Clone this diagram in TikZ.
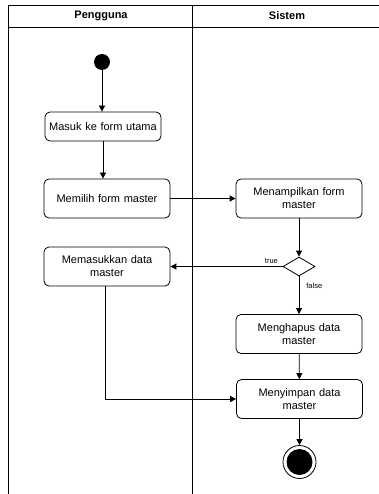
\documentclass[tikz,border=0pt]{standalone}
\usepackage{fontspec}
\setmainfont{Liberation Sans}
\usetikzlibrary{shapes.geometric,arrows.meta}
\begin{document}
\begin{tikzpicture}[x=1pt,y=-1pt,
  act/.style={draw, rounded corners=5pt, line width=0.8pt, minimum width=126pt, minimum height=39pt, align=center, font=\fontsize{11}{13}\selectfont, text width=122pt, inner sep=1pt},
  flow/.style={draw, line width=0.8pt, -{Triangle[length=6pt,width=6pt]}},
  lane/.style={draw, line width=0.9pt},
  lbl/.style={font=\fontsize{7.5}{9}\selectfont, inner sep=1pt}
]
\useasboundingbox (0,0) rectangle (379,494);
\fill[white] (0,0) rectangle (379,494);
% swimlanes
\draw[lane] (8,494) -- (8,5) -- (379,5);
\draw[lane] (8,27) -- (379,27);
\draw[lane] (192,5) -- (192,494);
\node[font=\bfseries\fontsize{11}{13}\selectfont] (h1) at (101,16) {Pengguna};
\node[font=\bfseries\fontsize{11}{13}\selectfont] (h2) at (287,16) {Sistem};
% nodes
\node[circle, fill=black, minimum size=16pt, inner sep=0pt] (start) at (102,62) {};
\node[act, minimum width=116pt, text width=114pt, minimum height=29pt] (masuk) at (103,126.5) {Masuk ke form utama};
\node[act] (memilih) at (107,198.5) {Memilih form master};
\node[act] (tampil) at (299,198.5) {Menampilkan form\\master};
\node[act] (memasukkan) at (107,266.5) {Memasukkan data\\master};
\node[diamond, draw, line width=0.8pt, minimum width=32pt, minimum height=19pt, inner sep=0pt, aspect=1.7] (dec) at (299,266.5) {};
\node[act] (hapus) at (299,334) {Menghapus data\\master};
\node[act] (simpan) at (299.5,399) {Menyimpan data\\master};
\node[circle, draw, line width=0.8pt, minimum size=33pt, inner sep=0pt] (end) at (299.5,462) {};
\node[circle, fill=black, minimum size=26pt, inner sep=0pt] (endin) at (end.center) {};
% connectors
\draw[flow] (start) -- (start |- masuk.north);
\draw[flow] (masuk) -- (masuk |- memilih.north);
\draw[flow] (memilih) -- (tampil);
\draw[flow] (tampil) -- (dec);
\draw[flow] (dec) -- node[lbl, above, pos=0.1, yshift=2pt] {true} (memasukkan);
\draw[flow] (dec) -- node[lbl, right, pos=0.25, xshift=6pt] {false} (hapus);
\draw[flow] (hapus) -- (simpan);
\draw[flow] (memasukkan.south -| 105,0) |- (simpan.west);
\draw[flow] (simpan) -- (end);
\end{tikzpicture}
\end{document}
